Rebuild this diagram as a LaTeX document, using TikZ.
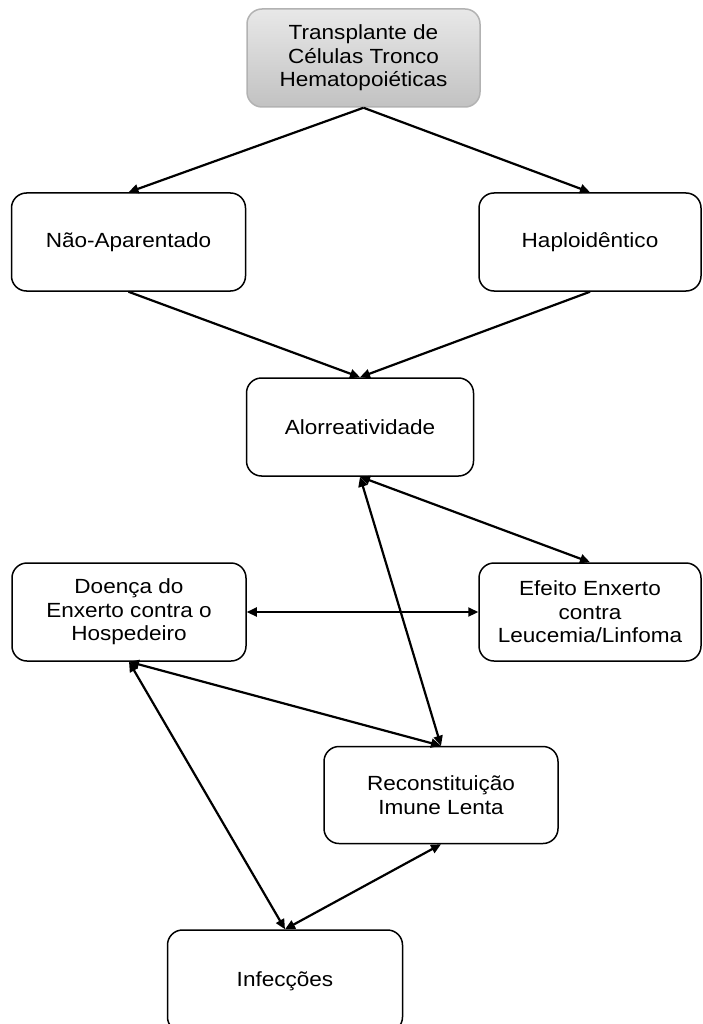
\documentclass[tikz,border=0pt]{standalone}
\usepackage{fontspec}
\setmainfont{Liberation Sans}[FakeStretch=1.1]
\usetikzlibrary{arrows.meta}

\begin{document}
\begin{tikzpicture}[
    x=1pt, y=-1pt,
    box/.style={draw, line width=1.5pt, rounded corners=15pt, align=center,
        inner sep=0pt, minimum height=98pt,
        font=\fontsize{20.5}{23.5}\selectfont},
    link/.style={line width=2.2pt, {Triangle[length=10pt,width=9pt]}-{Triangle[length=10pt,width=9pt]}},
    feed/.style={line width=2.2pt, -{Triangle[length=10pt,width=9pt]}}
]
    \clip (0,0) rectangle (703,1024);
    \useasboundingbox (0,0) rectangle (703,1024);

    % 1. The boxes (centres)
    \node[box, minimum width=233pt, draw=gray!60, top color=gray!18, bottom color=gray!48]
        (tcth) at (363.5,58) {Transplante de\\Células Tronco\\Hematopoiéticas};
    \node[box, minimum width=234pt] (naoap) at (128.5,242) {Não-Aparentado};
    \node[box, minimum width=222pt] (haplo) at (590,242) {Haploidêntico};
    \node[box, minimum width=227pt] (alor) at (360,427) {Alorreatividade};
    \node[box, minimum width=234pt] (dech) at (129,612) {Doença do\\Enxerto contra o\\Hospedeiro};
    \node[box, minimum width=222pt] (ecl) at (590,612) {Efeito Enxerto\\contra\\Leucemia/Linfoma};
    \node[box, minimum width=234pt, minimum height=97pt] (recon) at (441,795) {Reconstituição\\Imune Lenta};
    \node[box, minimum width=235pt, minimum height=102pt] (infec) at (285,981) {Infecções};

    % 2. One-way arrows from the top
    \draw[feed] (tcth.south) -- (naoap.north);
    \draw[feed] (tcth.south) -- (haplo.north);
    \draw[feed] (naoap.south) -- (alor.north);
    \draw[feed] (haplo.south) -- (alor.north);

    % 3. Two-way arrows below
    \draw[link] (alor.south) -- (ecl.north);
    \draw[link] (alor.south) -- (recon.north);
    \draw[link] (dech.east) -- (ecl.west);
    \draw[link] (dech.south) -- (recon.north);
    \draw[link] (dech.south) -- (infec.north);
    \draw[link] (recon.south) -- (infec.north);

\end{tikzpicture}
\end{document}
